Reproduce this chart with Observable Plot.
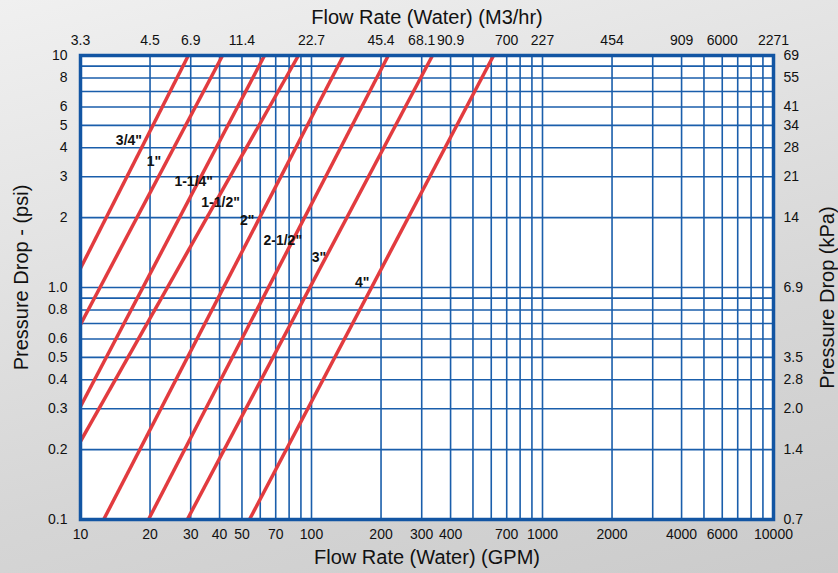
<!DOCTYPE html>
<html><head><meta charset="utf-8">
<script src="https://cdn.jsdelivr.net/npm/d3@7"></script>
<script src="https://cdn.jsdelivr.net/npm/@observablehq/plot@0.6"></script>
<style>
html,body{margin:0;padding:0;}
body{width:838px;height:573px;overflow:hidden;
background:linear-gradient(165deg,#f0f0f0 0%,#e2e2e2 35%,#d6d6d6 65%,#cbcbcb 100%);}
#chart svg{background:transparent;display:block;}
</style></head><body><div id="chart"></div>
<script>
// Pipe sizes and their pressure-drop lines (GPM, psi)
const sizes = ['3/4"', '1"', '1-1/4"', '1-1/2"', '2"', '2-1/2"', '3"', '4"'];
const startGpm = [10, 10, 10, 10, 12.6, 19.7, 29.0, 53.9];
const startPsi = [1.21, 0.693, 0.307, 0.217, 0.1, 0.1, 0.1, 0.1];
const endGpm = [29.3, 41.2, 62.6, 87.8, 137.5, 215, 334, 614];
const endPsi = [10, 10, 10, 10, 10, 10, 10, 10];
const labelGpm = [16.2, 20.8, 30.9, 40.4, 52.7, 75.1, 107.6, 165.8];
const labelPsi = [4.30, 3.50, 2.86, 2.32, 1.94, 1.59, 1.34, 1.05];

// Axis ticks
const gpmTicks = [10, 20, 30, 40, 50, 70, 100, 200, 300, 400, 700, 1000, 2000, 4000, 6000, 10000];
const m3hTickGpm = [10, 20, 30, 50, 100, 200, 300, 400, 700, 1000, 2000, 4000, 6000, 10000];
const m3hLabels = ["3.3", "4.5", "6.9", "11.4", "22.7", "45.4", "68.1", "90.9", "700", "227", "454", "909", "6000", "2271"];
const psiTicks = [10, 8, 6, 5, 4, 3, 2, 1, 0.8, 0.6, 0.5, 0.4, 0.3, 0.2, 0.1];
const psiLabels = ["10", "8", "6", "5", "4", "3", "2", "1.0", "0.8", "0.6", "0.5", "0.4", "0.3", "0.2", "0.1"];
const kpaTickPsi = [10, 8, 6, 5, 4, 3, 2, 1, 0.5, 0.4, 0.3, 0.2, 0.1];
const kpaLabels = ["69", "55", "41", "34", "28", "21", "14", "6.9", "3.5", "2.8", "2.0", "1.4", "0.7"];

// Grid lines
const gridGpm = [20, 30, 40, 50, 60, 70, 80, 90, 100, 200, 300, 400, 500, 600, 700, 800, 900, 1000, 2000, 3000, 4000, 5000, 6000, 7000, 8000, 9000];
const gridPsi = [0.2, 0.3, 0.4, 0.5, 0.6, 0.7, 0.8, 0.9, 1, 2, 3, 4, 5, 6, 7, 8, 9];

const rows = sizes.map((s, i) => ({size: s, x1: startGpm[i], y1: startPsi[i], x2: endGpm[i], y2: endPsi[i], lx: labelGpm[i], ly: labelPsi[i]}));
const bottomRows = gpmTicks.map(d => ({v: d, t: String(d)}));
const topRows = m3hTickGpm.map((d, i) => ({v: d, t: m3hLabels[i]}));
const leftRows = psiTicks.map((d, i) => ({v: d, t: psiLabels[i]}));
const rightRows = kpaTickPsi.map((d, i) => ({v: d, t: kpaLabels[i]}));

const font = "'Liberation Sans', Arial, sans-serif";
const blue = "#1a5eab";
const red = "#e23b3f";
const ink = "#111";

const chart = Plot.plot({
  width: 838, height: 573,
  marginLeft: 80, marginRight: 65, marginTop: 55, marginBottom: 54,
  style: {fontFamily: font, background: "transparent", color: ink},
  x: {type: "log", domain: [10, 10000], axis: null},
  y: {type: "log", domain: [0.1, 10], axis: null},
  marks: [
    Plot.frame({fill: "white", stroke: null}),
    Plot.ruleX(gridGpm, {stroke: blue, strokeWidth: 1.6}),
    Plot.ruleY(gridPsi, {stroke: blue, strokeWidth: 1.6}),
    Plot.link(rows, {x1: "x1", y1: "y1", x2: "x2", y2: "y2", stroke: red, strokeWidth: 3.5}),
    Plot.text(rows, {x: "lx", y: "ly", text: "size", fontSize: 14, fontWeight: "bold", fill: ink}),
    Plot.frame({stroke: "#1255a3", strokeWidth: 3.5}),
    // tick labels
    Plot.text(bottomRows, {x: "v", text: "t", frameAnchor: "bottom", lineAnchor: "middle", textAnchor: "middle", dy: 15, fontSize: 14, fill: ink}),
    Plot.text(topRows, {x: "v", text: "t", frameAnchor: "top", lineAnchor: "middle", textAnchor: "middle", dy: -15, fontSize: 14, fill: ink}),
    Plot.text(leftRows, {y: "v", text: "t", frameAnchor: "left", lineAnchor: "middle", textAnchor: "end", dx: -13, fontSize: 14, fill: ink}),
    Plot.text(rightRows, {y: "v", text: "t", frameAnchor: "right", lineAnchor: "middle", textAnchor: "start", dx: 10, fontSize: 14, fill: ink}),
    // titles
    Plot.text(["Flow Rate (Water) (M3/hr)"], {frameAnchor: "top", lineAnchor: "middle", textAnchor: "middle", dy: -38, fontSize: 20, fill: ink}),
    Plot.text(["Flow Rate (Water) (GPM)"], {frameAnchor: "bottom", lineAnchor: "middle", textAnchor: "middle", dy: 38, fontSize: 20, fill: ink}),
    Plot.text(["Pressure Drop - (psi)"], {frameAnchor: "left", lineAnchor: "middle", textAnchor: "middle", dx: -59, dy: -10, rotate: -90, fontSize: 20, fill: ink}),
    Plot.text(["Pressure Drop (kPa)"], {frameAnchor: "right", lineAnchor: "middle", textAnchor: "middle", dx: 54, dy: 10, rotate: -90, fontSize: 20, fill: ink})
  ]
});
document.getElementById("chart").appendChild(chart);
</script>
</body></html>
